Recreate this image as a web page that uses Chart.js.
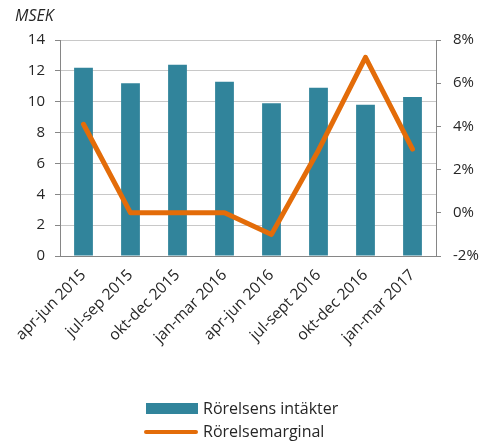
<!DOCTYPE html>
<html><head><meta charset="utf-8">
<script src="https://cdn.jsdelivr.net/npm/chart.js@4/dist/chart.umd.min.js"></script>
<style>
html,body{margin:0;padding:0;background:#fff;}
#wrap{position:relative;width:490px;height:446px;font-family:"Open Sans",sans-serif;color:#262626;}
#c{position:absolute;left:0;top:0;}
.t{position:absolute;font-size:16px;line-height:20px;white-space:nowrap;}
</style></head>
<body>
<div id="wrap">
<canvas id="c" width="490" height="446"></canvas>
<div class="t" style="left:15px;top:5px;font-style:italic;">MSEK</div>
<div style="position:absolute;left:146px;top:403px;width:52px;height:11px;background:#31849B;"></div>
<div class="t" style="left:203px;top:398px;">Rörelsens intäkter</div>
<div style="position:absolute;left:144px;top:430px;width:54px;height:4px;border-radius:2px;background:#E36C09;"></div>
<div class="t" style="left:203px;top:421px;">Rörelsemarginal</div>
</div>
<script>
const categories = ["apr-jun 2015","jul-sep 2015","okt-dec 2015","jan-mar 2016","apr-jun 2016","jul-sept 2016","okt-dec 2016","jan-mar 2017"];
const intakter = [12.2, 11.2, 12.4, 11.3, 9.9, 10.9, 9.8, 10.3];
const marginal = [4.1, 0, 0, 0, -1, 2.9, 7.2, 2.95];
const leftTicks = [0,2,4,6,8,10,12,14];
const rightTicks = [-2,0,2,4,6,8];

const font = {family: "'Open Sans', sans-serif", size: 15};
new Chart(document.getElementById('c'), {
  data: {
    labels: categories,
    datasets: [
      {type:'line', label:'Rörelsemarginal', data: marginal, yAxisID:'y2', borderColor:'#E36C09', backgroundColor:'#E36C09', borderWidth:5, pointRadius:0, tension:0, borderCapStyle:'round', borderJoinStyle:'round', order:0},
      {type:'bar', label:'Rörelsens intäkter', data: intakter, yAxisID:'y', backgroundColor:'#31849B', barPercentage:0.4, categoryPercentage:1, order:1}
    ]
  },
  options: {
    responsive:false, animation:false,
    layout:{padding:{top:40,left:0,right:0,bottom:0}},
    plugins:{legend:{display:false}, tooltip:{enabled:false}},
    scales:{
      x:{
        grid:{display:false},
        border:{display:true,color:'#868686',width:1},
        ticks:{color:'#262626',font:{family:"'Open Sans', sans-serif",size:15.5},minRotation:45,maxRotation:45,padding:2,autoSkip:false},
        afterFit:(s)=>{s.height=190;}
      },
      y:{
        position:'left', min:0, max:14,
        afterBuildTicks:(s)=>{s.ticks=leftTicks.map(v=>({value:v}));},
        grid:{color:'#c8c8c8', borderDash:[2,2], tickLength:5, tickColor:'#868686', tickBorderDash:[]},
        border:{display:true,color:'#868686'},
        ticks:{color:'#262626',font:font,padding:10},
        afterFit:(s)=>{s.width=60;}
      },
      y2:{
        position:'right', min:-2, max:8,
        afterBuildTicks:(s)=>{s.ticks=rightTicks.map(v=>({value:v}));},
        grid:{drawOnChartArea:false, tickLength:5, color:'#868686'},
        border:{display:true,color:'#868686'},
        ticks:{color:'#262626',font:font,padding:12,callback:(v)=>v+'%'},
        afterFit:(s)=>{s.width=54;}
      }
    }
  }
});
</script>
</body></html>
